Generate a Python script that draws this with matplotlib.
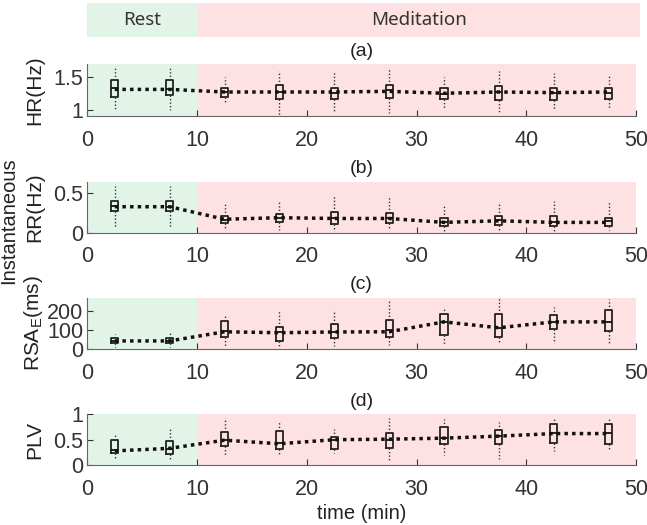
import numpy as np
import matplotlib.pyplot as plt

plt.rcParams['font.family'] = ['Liberation Sans Narrow', 'Liberation Sans', 'DejaVu Sans']
plt.rcParams['mathtext.fontset'] = 'custom'
plt.rcParams['mathtext.rm'] = 'Liberation Sans Narrow'

# box positions (min)
t = [2.5, 7.5, 12.5, 17.5, 22.5, 27.5, 32.5, 37.5, 42.5, 47.5]

# (a) HR
hr_med = [1.33, 1.32, 1.27, 1.27, 1.26, 1.30, 1.24, 1.27, 1.26, 1.26]
hr_q1 = [1.20, 1.23, 1.19, 1.16, 1.16, 1.18, 1.16, 1.15, 1.15, 1.16]
hr_q3 = [1.46, 1.46, 1.33, 1.37, 1.33, 1.37, 1.33, 1.36, 1.33, 1.33]
hr_lo = [0.99, 0.99, 1.08, 0.92, 0.97, 0.95, 1.03, 0.96, 1.00, 1.01]
hr_hi = [1.64, 1.66, 1.50, 1.60, 1.59, 1.62, 1.50, 1.59, 1.56, 1.51]
hr_line = [1.31, 1.31, 1.27, 1.27, 1.27, 1.28, 1.25, 1.27, 1.26, 1.27]

# (b) RR
rr_med = [0.34, 0.33, 0.16, 0.19, 0.19, 0.18, 0.14, 0.16, 0.14, 0.15]
rr_q1 = [0.28, 0.28, 0.12, 0.13, 0.11, 0.12, 0.09, 0.10, 0.09, 0.09]
rr_q3 = [0.40, 0.40, 0.21, 0.24, 0.26, 0.25, 0.19, 0.21, 0.21, 0.19]
rr_lo = [0.07, 0.06, 0.04, 0.03, 0.02, 0.03, 0.02, 0.03, 0.02, 0.03]
rr_hi = [0.60, 0.60, 0.36, 0.40, 0.48, 0.46, 0.37, 0.39, 0.40, 0.39]
rr_line = [0.33, 0.33, 0.17, 0.19, 0.18, 0.18, 0.13, 0.15, 0.13, 0.13]

# (c) RSA_E
rsa_med = [45, 45, 97, 91, 91, 100, 143, 112, 143, 143]
rsa_q1 = [31, 31, 66, 45, 57, 62, 74, 62, 103, 97]
rsa_q3 = [57, 57, 148, 117, 134, 155, 186, 186, 181, 203]
rsa_lo = [10, 10, 17, 17, 17, 22, 22, 34, 31, 28]
rsa_hi = [79, 91, 178, 207, 203, 259, 221, 269, 221, 264]
rsa_line = [43, 43, 91, 86, 90, 91, 143, 112, 143, 143]

# (d) PLV
plv_med = [0.30, 0.31, 0.49, 0.43, 0.49, 0.50, 0.53, 0.57, 0.63, 0.63]
plv_q1 = [0.23, 0.22, 0.38, 0.31, 0.31, 0.33, 0.42, 0.42, 0.43, 0.42]
plv_q3 = [0.50, 0.47, 0.65, 0.67, 0.55, 0.63, 0.75, 0.70, 0.80, 0.80]
plv_lo = [0.13, 0.13, 0.17, 0.17, 0.23, 0.10, 0.20, 0.13, 0.27, 0.30]
plv_hi = [0.62, 0.71, 0.93, 0.85, 0.71, 0.93, 0.90, 0.85, 0.93, 0.91]
plv_line = [0.28, 0.33, 0.49, 0.42, 0.50, 0.51, 0.53, 0.57, 0.62, 0.62]

panels = [
    ("(a)", "HR(Hz)", (0.9, 1.7), [1, 1.5], ["1", "1.5"], hr_med, hr_q1, hr_q3, hr_lo, hr_hi, hr_line),
    ("(b)", "RR(Hz)", (0, 0.65), [0, 0.5], ["0", "0.5"], rr_med, rr_q1, rr_q3, rr_lo, rr_hi, rr_line),
    ("(c)", "RSA$_\\mathregular{E}$(ms)", (0, 270), [0, 100, 200], ["0", "100", "200"],
     rsa_med, rsa_q1, rsa_q3, rsa_lo, rsa_hi, rsa_line),
    ("(d)", "PLV", (0, 1), [0, 0.5, 1], ["0", "0.5", "1"], plv_med, plv_q1, plv_q3, plv_lo, plv_hi, plv_line),
]

green = '#e2f4e8'
pink = '#fee1e2'

fig = plt.figure(figsize=(6.47, 5.25), dpi=100)
left, width = 0.135, 0.848

# top banner
bax = fig.add_axes([left, 0.930, 0.854, 0.064])
bax.axvspan(0, 10, color=green, lw=0)
bax.axvspan(10, 50, color=pink, lw=0)
bax.set_xlim(0, 50)
bax.set_ylim(0, 1)
bax.axis('off')
bax.text(5, 0.5, 'Rest', ha='center', va='center', fontsize=13.5, family='Noto Sans', color='#333333')
bax.text(30, 0.5, 'Meditation', ha='center', va='center', fontsize=13.5, family='Noto Sans', color='#333333')

rects = [(0.779, 0.099), (0.557, 0.097), (0.335, 0.098), (0.114, 0.097)]

for (ttl, ylab, ylim, yt, ytl, med, q1, q3, lo, hi, line), (b, h) in zip(panels, rects):
    ax = fig.add_axes([left, b, width, h])
    ax.axvspan(0, 10, color=green, lw=0, zorder=0)
    ax.axvspan(10, 50, color=pink, lw=0, zorder=0)
    stats = []
    for i in range(len(t)):
        stats.append(dict(med=med[i], q1=q1[i], q3=q3[i], whislo=lo[i], whishi=hi[i], fliers=[]))
    ax.bxp(stats, positions=t, widths=0.65, showfliers=False, manage_ticks=False,
           showcaps=False,
           boxprops=dict(color='#222222', lw=1.3),
           medianprops=dict(color='#111111', lw=1.3),
           whiskerprops=dict(color='#333333', lw=1.0, linestyle=(0, (1, 1.5))),
           zorder=3)
    ax.plot(t, line, color='#111111', lw=2.5, linestyle=(0, (1, 1.2)), zorder=4)
    ax.set_xlim(0, 50)
    ax.set_ylim(*ylim)
    ax.set_xticks([0, 10, 20, 30, 40, 50])
    ax.set_yticks(yt)
    ax.set_yticklabels(ytl)
    ax.tick_params(direction='in', labelsize=15.5, colors='#333333', length=4)
    ax.tick_params(axis='x', pad=10)
    ax.tick_params(axis='y', pad=3)
    for s in ['top', 'right']:
        ax.spines[s].set_visible(False)
    for s in ['left', 'bottom']:
        ax.spines[s].set_color('#666666')
    ax.set_title(ttl, fontsize=14, color='#222222', pad=6)
    ax.set_ylabel(ylab, fontsize=15, color='#222222')
    ax.yaxis.set_label_coords(-0.078, 0.5)
    if ttl == "(d)":
        ax.set_xlabel('time (min)', fontsize=14.5, color='#222222', labelpad=3)

fig.text(0.013, 0.58, 'Instantaneous', rotation=90, ha='center', va='center', fontsize=14.5, color='#222222')

fig.savefig('out.png', dpi=100)
